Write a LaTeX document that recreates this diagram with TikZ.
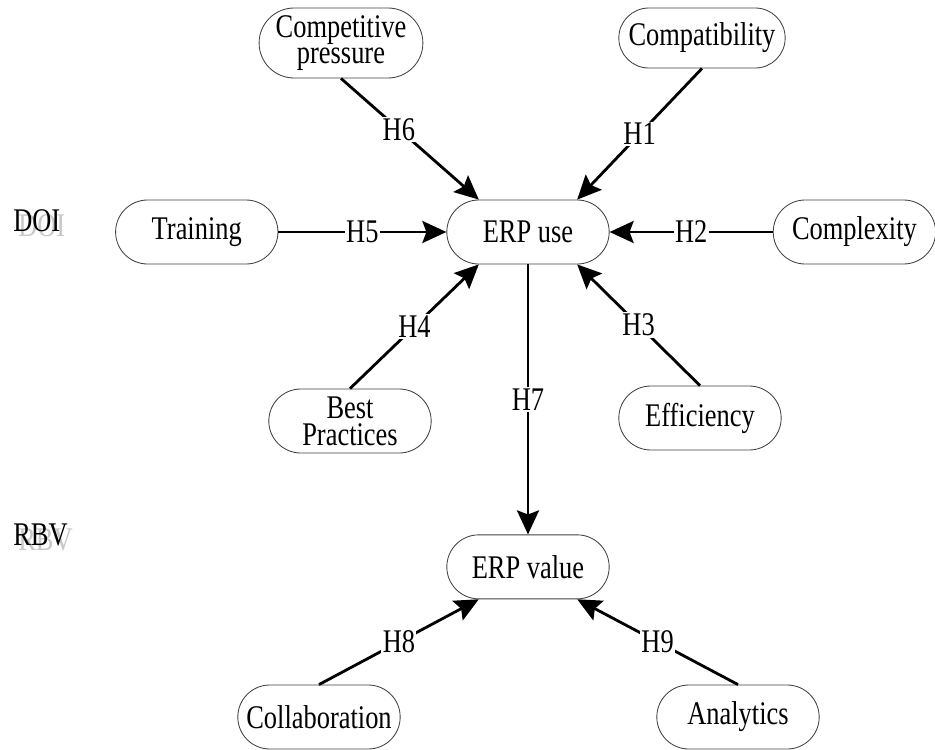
\documentclass[tikz,border=0pt]{standalone}
\usepackage{fontspec}
\setmainfont{Liberation Serif}[FakeStretch=0.8]
\usetikzlibrary{arrows.meta,positioning,shapes.misc,calc}

\begin{document}
\begin{tikzpicture}[
  font=\fontsize{23.5}{19}\selectfont,
  box/.style={draw=black!75, line width=0.6pt, rounded rectangle, align=center,
              minimum width=4.2cm, minimum height=1.6cm, inner sep=2pt},
  lab/.style={fill=white, inner sep=1pt},
  arr/.style={-{Stealth[length=6mm, width=5.5mm, inset=1mm]}, line width=2pt},
  tag/.style={anchor=west, inner sep=0pt},
  tagshadow/.style={tag, text=black!22}
]

\useasboundingbox (-13.2,5.8) rectangle (10.175,-12.925);

% ---------- ERP use and its drivers ----------
\node[box] (use) {ERP use};
\node[box, left=4.2cm of use] (training) {Training};
\node[box, right=4.08cm of use] (complexity) {Complexity};
\node[box, minimum width=3.7cm, minimum height=1.75cm] (pressure)
  at ($(use)+(-4.675,4.725)$) {Competitive\\pressure};
\node[box, minimum width=4.3cm, minimum height=1.5cm] (compat)
  at ($(use)+(4.35,4.85)$) {Compatibility};
\node[box] (best) at ($(use)+(-4.45,-4.725)$) {Best\\Practices};
\node[box] (efficiency) at ($(use)+(4.3,-4.65)$) {Efficiency};

\draw[arr] (compat.south) -- node[lab]{H1} (use.north east);
\draw[arr] (complexity.west) -- node[lab]{H2} (use.east);
\draw[arr] (efficiency.north) -- node[lab]{H3} (use.south east);
\draw[arr] (best.north) -- node[lab]{H4} (use.south west);
\draw[arr] (training.east) -- node[lab]{H5} (use.west);
\draw[arr] (pressure.south) -- node[lab, pos=0.42]{H6} (use.north west);

% ---------- ERP value ----------
\node[box, below=6.75cm of use] (value) {ERP value};
\node[box] (collab) at ($(use)+(-5.225,-12.125)$) {Collaboration};
\node[box] (analytics) at ($(use)+(5.25,-12.125)$) {Analytics};

\draw[arr] (use.south) -- node[lab]{H7} (value.north);
\draw[arr] (collab.north) -- node[lab]{H8} (value.south west);
\draw[arr] (analytics.north) -- node[lab]{H9} (value.south east);

% ---------- theory tags (with drop shadow) ----------
\node[tagshadow] (doishadow) at (-12.75,0.15) {DOI};
\node[tag] (doi) at (-12.875,0.275) {DOI};
\node[tagshadow] (rbvshadow) at (-12.75,-7.7) {RBV};
\node[tag] (rbv) at (-12.875,-7.575) {RBV};

\end{tikzpicture}
\end{document}
